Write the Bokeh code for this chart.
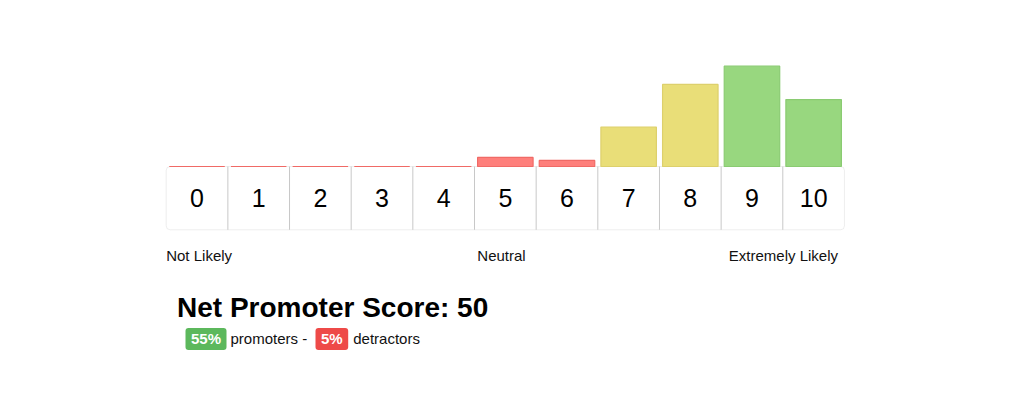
from bokeh.plotting import figure
from bokeh.models import BoxAnnotation, ColumnDataSource
from bokeh.core.properties import value
from bokeh.embed import file_html
from bokeh.resources import INLINE

# ---- data ----
scores = list(range(11))
score_labels = [str(s) for s in scores]
percent = [0, 0, 0, 0, 0, 3, 2, 13, 27, 33, 22]
groups = ["detractor"] * 7 + ["passive"] * 2 + ["promoter"] * 2
scale_labels = ["Not Likely", "Neutral", "Extremely Likely"]
title_text = "Net Promoter Score"

promoters = sum(p for p, g in zip(percent, groups) if g == "promoter")
detractors = sum(p for p, g in zip(percent, groups) if g == "detractor")
nps = promoters - detractors

fill_map = {"detractor": "#fe7f7b", "passive": "#e9de78", "promoter": "#98d77f"}
line_map = {"detractor": "#f06a66", "passive": "#ddd06c", "promoter": "#8acb72"}

# ---- geometry helpers (page px -> data units) ----
W, H = 1008, 384
OFF = 0               # page offset of the figure
CELL = 61.66
LEFT = 165.7          # page x of box left edge
BASE = 166.0          # page y of bar baseline / box top
PXY = 3.04            # px per percent


def X(px):
    return (px - LEFT) / CELL - 0.5


def Y(py):
    return (BASE - py) / PXY


x0 = X(OFF)
x1 = X(OFF + W)
y1 = Y(OFF)
y0 = Y(OFF + H)

p = figure(width=W, height=H, x_range=(x0, x1), y_range=(y0, y1),
           output_backend="svg", toolbar_location=None, min_border=0,
           background_fill_color="white", border_fill_color="white")
p.axis.visible = False
p.grid.visible = False
p.outline_line_color = None

# bars
src = ColumnDataSource(dict(
    x=scores, top=percent,
    fill=[fill_map[g] for g in groups],
    line=[line_map[g] for g in groups],
))
p.vbar(x="x", top="top", bottom=0, width=0.9, source=src,
       fill_color="fill", line_color="line", line_width=1.2)

# score boxes
box_top = Y(166)
box_bot = Y(229.3)
p.add_layout(BoxAnnotation(left=-0.5, right=scores[-1] + 0.5, top=box_top, bottom=box_bot,
                           fill_color="white", fill_alpha=1, line_color="#c8c8c8",
                           line_width=1, border_radius=4, level="underlay"))
p.segment(x0=[s + 0.5 for s in scores[:-1]], x1=[s + 0.5 for s in scores[:-1]],
          y0=box_top, y1=box_bot, line_color="#c8c8c8", line_width=1)
p.text(x=scores, y=Y(197), text=score_labels, text_align="center",
       text_baseline="middle", text_font=value("Liberation Sans"),
       text_font_size="25px", text_color="#000000")

# scale labels
p.text(x=[X(165.7), X(501), X(837.5)], y=Y(254.5), text=scale_labels,
       text_align=["left", "center", "right"], text_baseline="middle",
       text_font=value("Liberation Sans"), text_font_size="15px", text_color="#111111")

# title
p.text(x=[X(176.5)], y=[Y(307)], text=[f"{title_text}: {nps}"],
       text_align="left", text_baseline="middle",
       text_font=value("Liberation Sans"), text_font_style="bold",
       text_font_size="28px", text_color="#000000")

# badges
bt, bb = Y(327.5), Y(349.5)
p.add_layout(BoxAnnotation(left=X(185), right=X(226), top=bt, bottom=bb,
                           fill_color="#5cb85c", fill_alpha=1, line_color=None,
                           border_radius=3, level="underlay"))
p.add_layout(BoxAnnotation(left=X(315), right=X(347.7), top=bt, bottom=bb,
                           fill_color="#ee4a48", fill_alpha=1, line_color=None,
                           border_radius=3, level="underlay"))
p.text(x=[X(205.5), X(331.3)], y=Y(338), text=[f"{promoters}%", f"{detractors}%"],
       text_align="center", text_baseline="middle",
       text_font=value("Liberation Sans"), text_font_style="bold",
       text_font_size="15px", text_color="white")
p.text(x=[X(230), X(352.7)], y=Y(338), text=["promoters -", "detractors"],
       text_align="left", text_baseline="middle",
       text_font=value("Liberation Sans"), text_font_size="15px", text_color="#111111")

open("out.html", "w").write(file_html(p, INLINE))
